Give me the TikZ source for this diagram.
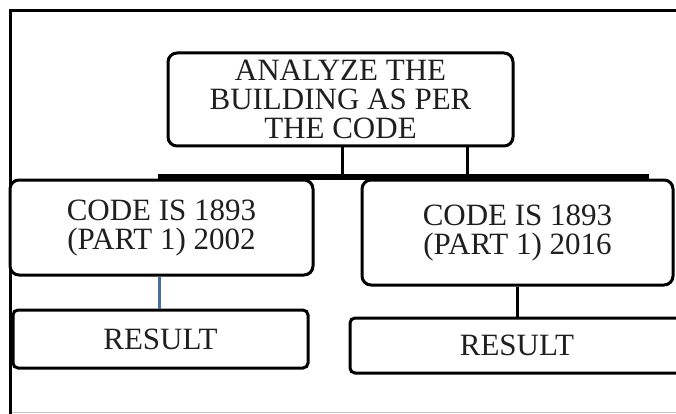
\documentclass[tikz,border=0pt]{standalone}
\usepackage{fontspec}
\setmainfont{Liberation Serif}
\begin{document}
\begin{tikzpicture}[x=1pt,y=-1pt,
  box/.style={draw=black, line width=3pt, rounded corners=9pt, fill=white,
    align=center, inner sep=0pt, text=black!88,
    font=\fontsize{31}{29}\selectfont},
  resbox/.style={box, rounded corners=5pt},
  link/.style={line width=3pt, draw=black},
  bluelink/.style={line width=3pt, draw=blueconn}]
\definecolor{blueconn}{RGB}{72,110,160}
\useasboundingbox (0,0) rectangle (676,414);

% page frame: left and top rules, faint bottom rule
\draw[line width=0.8pt, black!22] (10,412.5) -- (676,412.5);
\draw[line width=2.8pt, black] (10.5,414) -- (10.5,10.5) -- (676,10.5);

% branch bar joining the two code boxes
\coordinate (barL) at (158,177);
\coordinate (barR) at (649,177);

% boxes
\node[box, minimum width=345pt, minimum height=93pt] (top) at (340.5,99.5)
  {ANALYZE THE\\BUILDING AS PER\\THE CODE};
\node[box, minimum width=303pt, minimum height=95pt] (lmid) at (161.5,227.5)
  {CODE IS 1893\\(PART 1) 2002};
\node[box, minimum width=311pt, minimum height=105pt] (rmid) at (517.5,232.5)
  {CODE IS 1893\\(PART 1) 2016};
\node[resbox, minimum width=295pt, minimum height=58pt] (lres) at (160.5,339)
  {RESULT};
\node[resbox, minimum width=334pt, minimum height=55pt] (rres) at (517,345.5)
  {RESULT};

% connectors
\draw[link] ([xshift=1.5pt]top.south) -- ([xshift=1.5pt]top.south |- barL);
\draw[link] ([xshift=126.5pt]top.south) -- ([xshift=126.5pt]top.south |- barL);
\draw[line width=6.5pt, black] (barL) -- (barR);
\draw[bluelink] ([xshift=-1.5pt]lres.north) -- ([xshift=-1.5pt]lres.north |- lmid.south);
\draw[link] (rres.north) -- (rres.north |- rmid.south);
\end{tikzpicture}
\end{document}
